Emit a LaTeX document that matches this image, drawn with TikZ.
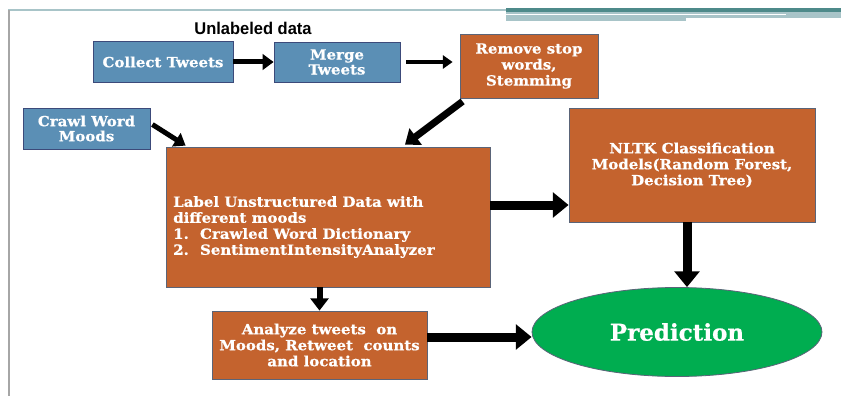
\documentclass[tikz,border=0pt]{standalone}
\usepackage{fontspec}
\usetikzlibrary{arrows.meta,calc,shapes.geometric}
\newfontfamily\boxfont[FakeStretch=1.07, BoldFeatures={FakeBold=0.6}]{DejaVu Serif}
\newfontfamily\predfont[BoldFeatures={FakeBold=0.6}]{DejaVu Serif}
\newfontfamily\narrowfont[FakeStretch=0.97]{Liberation Sans}
\definecolor{boxblue}{RGB}{91,143,181}
\definecolor{boxorange}{RGB}{196,99,46}
\definecolor{boxgreen}{RGB}{0,173,80}
\definecolor{edgeblue}{RGB}{60,74,122}
\definecolor{edgegray}{RGB}{90,100,120}
\definecolor{slideline}{RGB}{168,196,200}
\definecolor{slidedark}{RGB}{78,138,138}
\tikzset{
  bluebox/.style={draw=edgeblue, line width=0.8pt, fill=boxblue, text=white, font=\boxfont\bfseries\fontsize{14}{15}\selectfont, align=center, inner sep=0pt},
  orangebox/.style={draw=edgegray, line width=0.8pt, fill=boxorange, text=white, font=\boxfont\bfseries\fontsize{14}{16}\selectfont, align=center, inner sep=0pt},
  bigarrow/.style={draw=black, line width=#1, -{Triangle[width=2.3*#1+4pt, length=1.2*#1+5pt]}},
}
\begin{document}
\begin{tikzpicture}[x=1pt,y=-1pt]
\useasboundingbox (0,0) rectangle (841,396);
% slide decoration
\fill[white] (0,0) rectangle (841,396);
\draw[slideline, line width=2pt] (8,10) -- (506,10);
\draw[gray!70, line width=2pt] (9,10) -- (9,396);
\fill[slidedark] (506,8.5) rectangle (841,12);
\fill[slideline] (506,12) rectangle (841,18);
\fill[slideline] (506,18) rectangle (686,21);
\fill[white] (506,14) rectangle (786,15.3);
% nodes
\node[font=\narrowfont\bfseries\fontsize{17}{19}\selectfont] (title) at (253,28) {Unlabeled data};
\node[bluebox, minimum width=140pt, minimum height=41pt] (collect) at (163,62) {Collect Tweets};
\node[bluebox, minimum width=126pt, minimum height=40pt] (merge) at (337,62) {Merge\\Tweets};
\node[orangebox, minimum width=138pt, minimum height=64pt] (remove) at (529,66) {Remove stop\\words,\\Stemming};
\node[bluebox, minimum width=127pt, minimum height=41pt] (crawl) at (86.5,128.5) {Crawl Word\\Moods};
\node[orangebox, minimum width=324pt, minimum height=140pt] (label) at (328,217) {};
\node[anchor=west, text=white, font=\boxfont\bfseries\fontsize{14}{16}\selectfont, align=left, inner sep=0pt] (labeltext) at (173,227)
  {Label Unstructured Data with\\different moods\\1.\hspace{0.8em}Crawled Word Dictionary\\2.\hspace{0.8em}SentimentIntensityAnalyzer};
\node[orangebox, minimum width=246pt, minimum height=114pt] (nltk) at (692,165) {NLTK Classification\\Models(Random Forest,\\Decision Tree)};
\node[orangebox, minimum width=215pt, minimum height=68pt] (analyze) at (319.5,345) {Analyze tweets\ \ on\\Moods, Retweet\ \ counts\\and location};
\node[ellipse, draw=edgegray, line width=0.8pt, fill=boxgreen, text=white, minimum width=290pt, minimum height=89pt, inner sep=0pt, font=\predfont\bfseries\fontsize{23}{26}\selectfont] (pred) at (677,332) {Prediction};
% connectors
\draw[bigarrow=5pt] (collect.east) -- (merge.west);
\draw[bigarrow=4pt] ($(merge.east)+(6,0)$) -- ($(remove.west |- merge.east)+(-7,0)$);
\draw[bigarrow=7pt] ($(remove.south west)+(3,3)$) -- ($(label.north)+(77,-2)$);
\draw[bigarrow=5pt] ($(crawl.east)+(2,-4)$) -- ($(label.north west)+(20,-1)$);
\draw[bigarrow=9pt] ($(label.east)+(0,-12)$) coordinate (la) -- (la -| nltk.west);
\draw[bigarrow=9pt] ($(nltk.south)+(-5,0)$) coordinate (nb) -- (nb |- pred.north);
\draw[bigarrow=6pt] (analyze.north |- label.south) -- (analyze.north);
\draw[bigarrow=9pt] ($(analyze.east)+(0,-8)$) coordinate (ab) -- (ab -| pred.west);
\end{tikzpicture}
\end{document}
